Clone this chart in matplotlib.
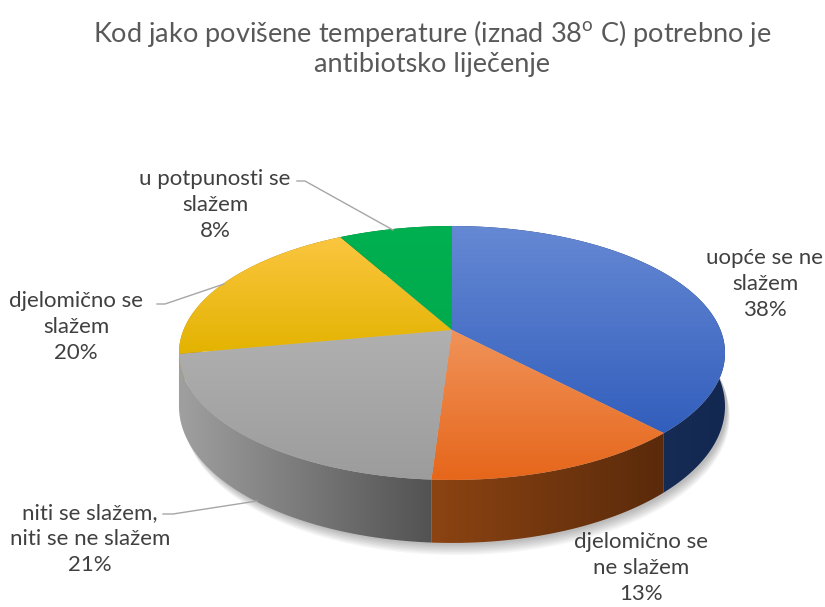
import numpy as np
import matplotlib
matplotlib.use("Agg")
import matplotlib.pyplot as plt
from matplotlib.patches import Polygon
from matplotlib.colors import LinearSegmentedColormap

plt.rcParams["font.family"] = ["Lato", "DejaVu Sans"]
plt.rcParams["mathtext.fontset"] = "custom"
plt.rcParams["mathtext.rm"] = "Lato"

title = "Kod jako povišene temperature (iznad 38$^{\\mathrm{o}}$ C) potrebno je\nantibiotsko liječenje"
categories = ["uopće se ne\nslažem", "djelomično se\nne slažem",
              "niti se slažem,\nniti se ne slažem", "djelomično se\nslažem",
              "u potpunosti se\nslažem"]
values = [38, 13, 21, 20, 8]

# (top face: upper colour, lower colour), (side: left colour, right colour)
top_colors = [("#6689d4", "#325ebc"), ("#f0935a", "#e6661a"), ("#b0b0b0", "#9c9c9c"),
              ("#fbc640", "#e3b300"), ("#00b050", "#00ab4d")]
side_colors = [("#1e3866", "#132850"), ("#8c4412", "#5a2a0b"), ("#a0a0a0", "#525252"),
               ("#b88a00", "#8a6800"), ("#007a38", "#005a28")]
label_pos = [(765, 284), (641, 568), (90, 539), (76, 327), (215, 205)]
leaders = [None, None,
           [(163, 514), (173, 514), (257, 501)],
           [(157, 304), (165, 304), (224, 284)],
           [(297, 181), (305, 181), (393, 230)]]

CX, CY = 452, 330
RX, RY = 268.5, 122.8
K = 0.181
DEPTH = 51.6


def project(theta, drop=0.0):
    u = np.sin(theta)
    v = np.cos(theta)
    w = 1 + K * v
    return CX + RX * u / w, CY - RY * v / w + drop / w


def gradient_fill(ax, xs, ys, c0, c1, horizontal, z):
    poly = Polygon(np.column_stack([xs, ys]), closed=True, facecolor="none",
                   edgecolor="none", zorder=z)
    ax.add_patch(poly)
    cmap = LinearSegmentedColormap.from_list("g", [c0, c1])
    grad = np.linspace(0, 1, 256)
    if horizontal:
        img = grad[np.newaxis, :]
    else:
        img = grad[:, np.newaxis]
    im = ax.imshow(img, cmap=cmap, aspect="auto", origin="upper",
                   extent=(min(xs) - 1, max(xs) + 1, max(ys) + 1, min(ys) - 1),
                   interpolation="bilinear", zorder=z)
    im.set_clip_path(poly)


fig = plt.figure(figsize=(8.25, 6.07), dpi=100)
ax = fig.add_axes([0, 0, 1, 1])
ax.set_axis_off()

fracs = np.array(values) / sum(values)
bounds = np.concatenate([[0], np.cumsum(fracs)]) * 2 * np.pi

# soft shadow under the pie
full = np.linspace(0, 2 * np.pi, 400)
for i in range(8):
    sx, sy = project(full, DEPTH + 1.5 + i * 1.2)
    sx = sx + 2 + i * 0.4
    ax.add_patch(Polygon(np.column_stack([sx, sy]), closed=True, facecolor="black",
                         edgecolor="none", alpha=0.035, zorder=1))

# side walls, drawn back to front
order = sorted(range(len(values)),
               key=lambda i: -np.cos((bounds[i] + bounds[i + 1]) / 2))
for i in order:
    t = np.linspace(bounds[i], bounds[i + 1], 120)
    tx, ty = project(t)
    bx, by = project(t[::-1], DEPTH)
    gradient_fill(ax, np.concatenate([tx, bx]), np.concatenate([ty, by]),
                  side_colors[i][0], side_colors[i][1], True, 2)

# top faces
for i in range(len(values)):
    t = np.linspace(bounds[i], bounds[i + 1], 120)
    tx, ty = project(t)
    xs = np.concatenate([[CX], tx])
    ys = np.concatenate([[CY], ty])
    gradient_fill(ax, xs, ys, top_colors[i][0], top_colors[i][1], False, 3)

# labels
for i, (name, val) in enumerate(zip(categories, values)):
    x, y = label_pos[i]
    ax.text(x, y, f"{name}\n{val}%", ha="center", va="center", fontsize=16,
            color="#404040", linespacing=1.4, zorder=5)
    if leaders[i] is not None:
        lx, ly = zip(*leaders[i])
        ax.plot(lx, ly, color="#a6a6a6", lw=1, zorder=4)

ax.text(432, 47.5, title, ha="center", va="center", fontsize=19.5, color="#595959",
        linespacing=1.13, zorder=5)

ax.set_xlim(0, 825)
ax.set_ylim(607, 0)
fig.savefig("out.png", dpi=100, facecolor="white")
